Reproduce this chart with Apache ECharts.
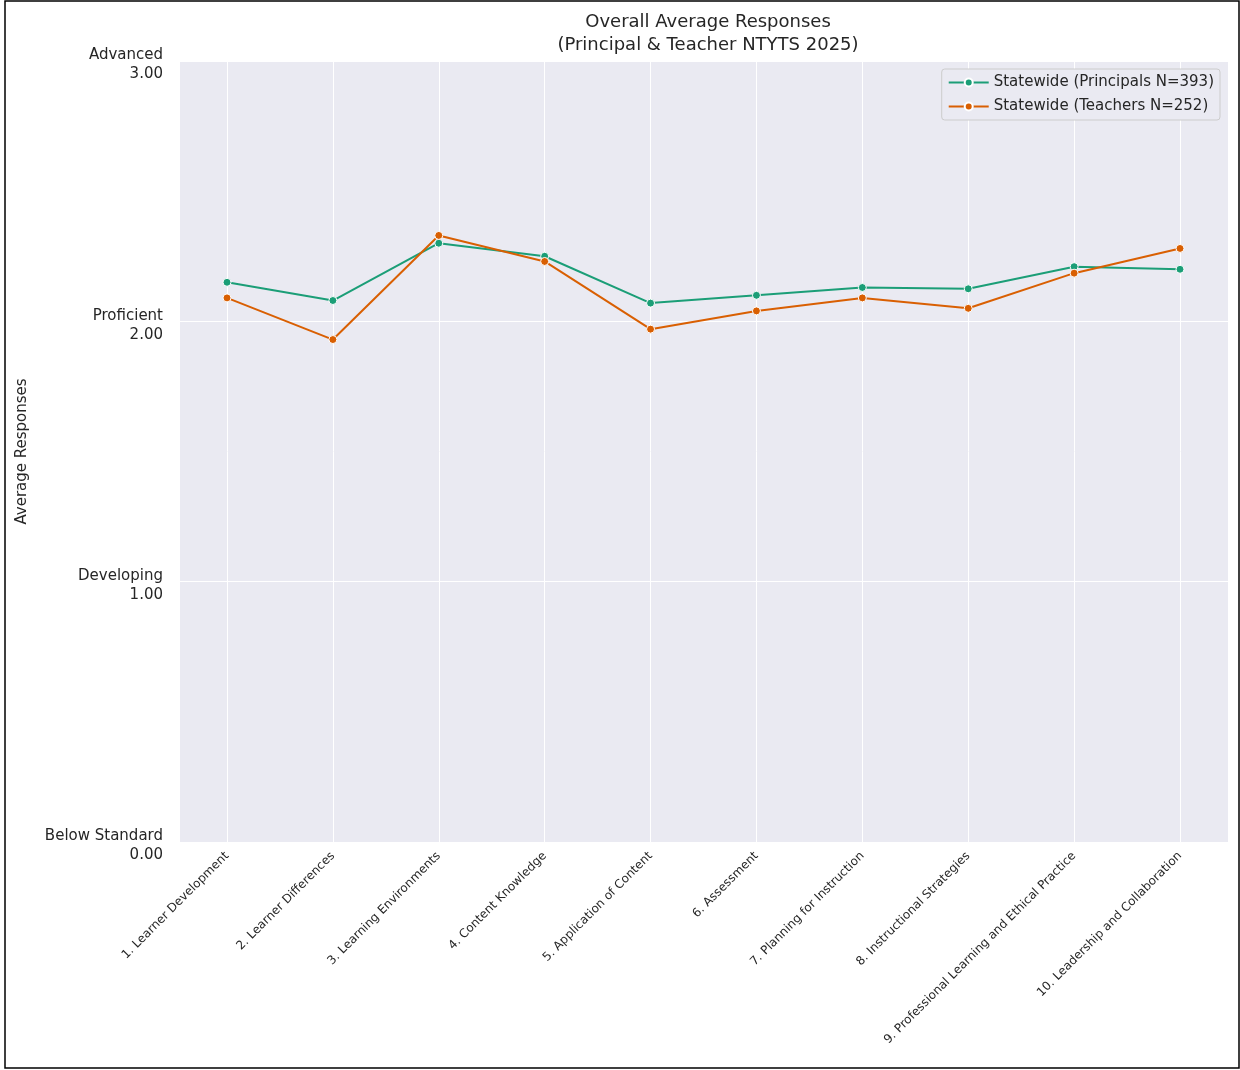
<!DOCTYPE html>
<html><head><meta charset="utf-8">
<script src="https://cdn.jsdelivr.net/npm/echarts@6/dist/echarts.min.js"></script>
<style>html,body{margin:0;padding:0;background:#fff}#c{width:1240px;height:1070px}</style>
</head><body><div id="c"></div>
<script>
const categories = ["1. Learner Development","2. Learner Differences","3. Learning Environments","4. Content Knowledge","5. Application of Content","6. Assessment","7. Planning for Instruction","8. Instructional Strategies","9. Professional Learning and Ethical Practice","10. Leadership and Collaboration"];
const principals = [2.15,2.08,2.30,2.25,2.07,2.10,2.13,2.125,2.21,2.20];
const teachers = [2.09,1.93,2.33,2.23,1.97,2.04,2.09,2.05,2.185,2.28];
const yTickNames = {0:"Below Standard",1:"Developing",2:"Proficient",3:"Advanced"};
const font = "DejaVu Sans";
const chart = echarts.init(document.getElementById('c'));
chart.setOption({
  animation:false,
  textStyle:{fontFamily:font},
  title:{text:"Overall Average Responses\n(Principal & Teacher NTYTS 2025)",left:703,top:6,textAlign:'center',
    textStyle:{fontFamily:font,fontSize:18,fontWeight:'normal',color:'#262626',lineHeight:23}},
  graphic:[{type:'rect',shape:{x:5,y:1,width:1234,height:1067},style:{fill:null,stroke:'#000',lineWidth:1.5},z:-1}],
  legend:{orient:'vertical',right:20,top:69,padding:[6,6,6,6],itemGap:9,backgroundColor:'#eaeaf2',borderColor:'#cccccc',borderWidth:1,borderRadius:3,
    itemWidth:40,itemHeight:10,textStyle:{fontFamily:font,fontSize:15,color:'#262626'},
    data:["Statewide (Principals N=393)","Statewide (Teachers N=252)"]},
  grid:[{left:180,right:12,top:61,bottom:228,backgroundColor:'#eaeaf2',show:true,borderWidth:0},
        {left:227,right:60,top:61,bottom:228}],
  xAxis:[{gridIndex:0,type:'value',show:false,min:0,max:1},
    {gridIndex:1,type:'category',data:categories,boundaryGap:false,
      axisLine:{show:false},axisTick:{show:false},
      splitLine:{show:true,lineStyle:{color:'#fff',width:1}},
      axisLabel:{rotate:45,fontSize:12,color:'#262626',interval:0,margin:12,fontFamily:font}}],
  yAxis:[{gridIndex:0,type:'value',min:0,max:3,interval:1,
      axisLine:{show:false},axisTick:{show:false},
      splitLine:{lineStyle:{color:'#fff',width:1}},
      axisLabel:{fontSize:15,color:'#262626',align:'right',margin:17,fontFamily:font,
        formatter:v=>"{s| }\n{t|"+yTickNames[v]+"}\n{t|"+v.toFixed(2)+"}",
        rich:{s:{fontSize:1,lineHeight:8},t:{fontSize:15,lineHeight:19,color:'#262626',align:'right'}}},
      name:"Average Responses",nameLocation:'middle',nameGap:150,nameTextStyle:{fontSize:15,color:'#262626',fontFamily:font}},
    {gridIndex:1,type:'value',min:0,max:3,show:false}],
  series:[
    {name:"Statewide (Principals N=393)",type:'line',xAxisIndex:1,yAxisIndex:1,data:principals,color:'#1b9e77',
      symbol:'circle',symbolSize:8,lineStyle:{width:2},itemStyle:{borderColor:'#fff',borderWidth:1}},
    {name:"Statewide (Teachers N=252)",type:'line',xAxisIndex:1,yAxisIndex:1,data:teachers,color:'#d95f02',
      symbol:'circle',symbolSize:8,lineStyle:{width:2},itemStyle:{borderColor:'#fff',borderWidth:1}}
  ]
});
</script></body></html>
